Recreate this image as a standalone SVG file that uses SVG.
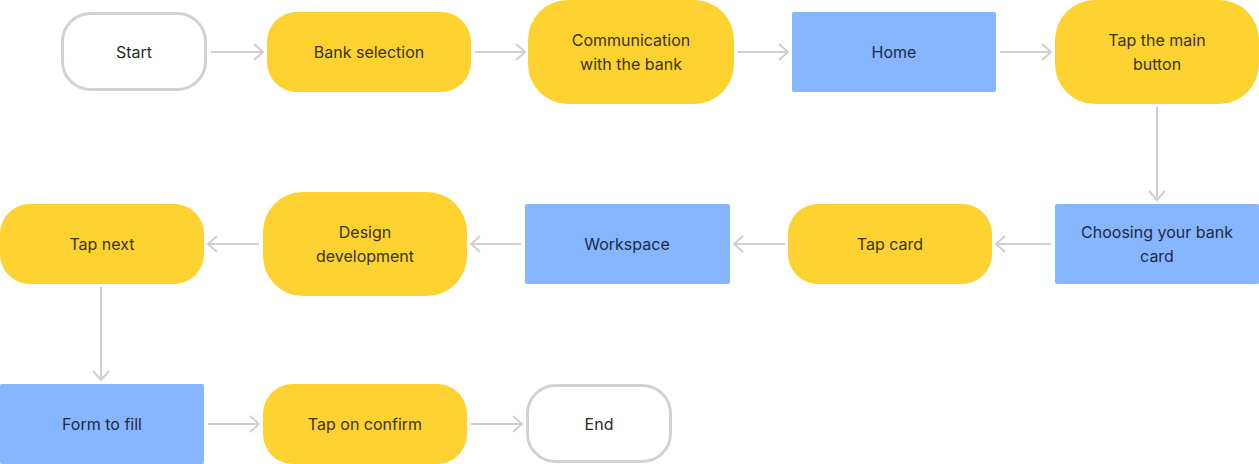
<svg xmlns="http://www.w3.org/2000/svg" width="1259" height="464" viewBox="0 0 1259 464">
<defs>
<marker id="arr" markerWidth="12" markerHeight="18" refX="10" refY="9" orient="auto" markerUnits="userSpaceOnUse">
<path d="M1,1 L10,9 L1,17" fill="none" stroke="#d0d0d0" stroke-width="2"/>
</marker>
</defs>
<style>
.y{fill:#fdd231}
.b{fill:#85b6ff}
.w{fill:#ffffff;stroke:#d2d2d2;stroke-width:3}
text{font-family:Inter,"Noto Sans","Liberation Sans",sans-serif;font-size:16px;text-anchor:middle;dominant-baseline:central}
.ty{fill:#3b3413}
.tb{fill:#1e2a44}
.tw{fill:#2b2b2b}
.c{stroke:#d0d0d0;stroke-width:2;fill:none;marker-end:url(#arr)}
</style>
<rect width="1259" height="464" fill="#ffffff"/>
<g id="connectors">
<line class="c" x1="211" y1="52" x2="263" y2="52"/>
<line class="c" x1="475" y1="52" x2="525" y2="52"/>
<line class="c" x1="738" y1="52" x2="788" y2="52"/>
<line class="c" x1="1000" y1="52" x2="1051" y2="52"/>
<line class="c" x1="1157" y1="107" x2="1157" y2="200"/>
<line class="c" x1="1051" y1="244" x2="996" y2="244"/>
<line class="c" x1="785" y1="244" x2="734" y2="244"/>
<line class="c" x1="521" y1="244" x2="471" y2="244"/>
<line class="c" x1="259" y1="244" x2="208" y2="244"/>
<line class="c" x1="101" y1="287" x2="101" y2="380"/>
<line class="c" x1="208" y1="424" x2="259" y2="424"/>
<line class="c" x1="471" y1="424" x2="522" y2="424"/>
</g>
<g id="start"><rect class="w" x="62.5" y="13.5" width="143" height="76" rx="28"/><text class="tw" x="134" y="52">Start</text></g>
<g id="bank-selection"><rect class="y" x="267" y="12" width="204" height="80" rx="30"/><text class="ty" x="369" y="52">Bank selection</text></g>
<g id="communication"><rect class="y" x="528" y="0" width="206" height="104" rx="40"/><text class="ty" x="631" y="40">Communication</text><text class="ty" x="631" y="64">with the bank</text></g>
<g id="home"><rect class="b" x="792" y="12" width="204" height="80" rx="2"/><text class="tb" x="894" y="52">Home</text></g>
<g id="tap-main"><rect class="y" x="1055" y="0" width="204" height="104" rx="40"/><text class="ty" x="1157" y="40">Tap the main</text><text class="ty" x="1157" y="64">button</text></g>
<g id="choosing-card"><rect class="b" x="1055" y="204" width="204" height="80" rx="2"/><text class="tb" x="1157" y="232">Choosing your bank</text><text class="tb" x="1157" y="256">card</text></g>
<g id="tap-card"><rect class="y" x="788" y="204" width="204" height="80" rx="30"/><text class="ty" x="890" y="244">Tap card</text></g>
<g id="workspace"><rect class="b" x="525" y="204" width="205" height="80" rx="2"/><text class="tb" x="627" y="244">Workspace</text></g>
<g id="design-development"><rect class="y" x="263" y="192" width="204" height="104" rx="40"/><text class="ty" x="365" y="232">Design</text><text class="ty" x="365" y="256">development</text></g>
<g id="tap-next"><rect class="y" x="0" y="204" width="204" height="80" rx="30"/><text class="ty" x="102" y="244">Tap next</text></g>
<g id="form-to-fill"><rect class="b" x="0" y="384" width="204" height="80" rx="2"/><text class="tb" x="102" y="424">Form to fill</text></g>
<g id="tap-confirm"><rect class="y" x="263" y="384" width="204" height="80" rx="30"/><text class="ty" x="365" y="424">Tap on confirm</text></g>
<g id="end"><rect class="w" x="527.5" y="385.5" width="143" height="76" rx="28"/><text class="tw" x="599" y="424">End</text></g>
</svg>
